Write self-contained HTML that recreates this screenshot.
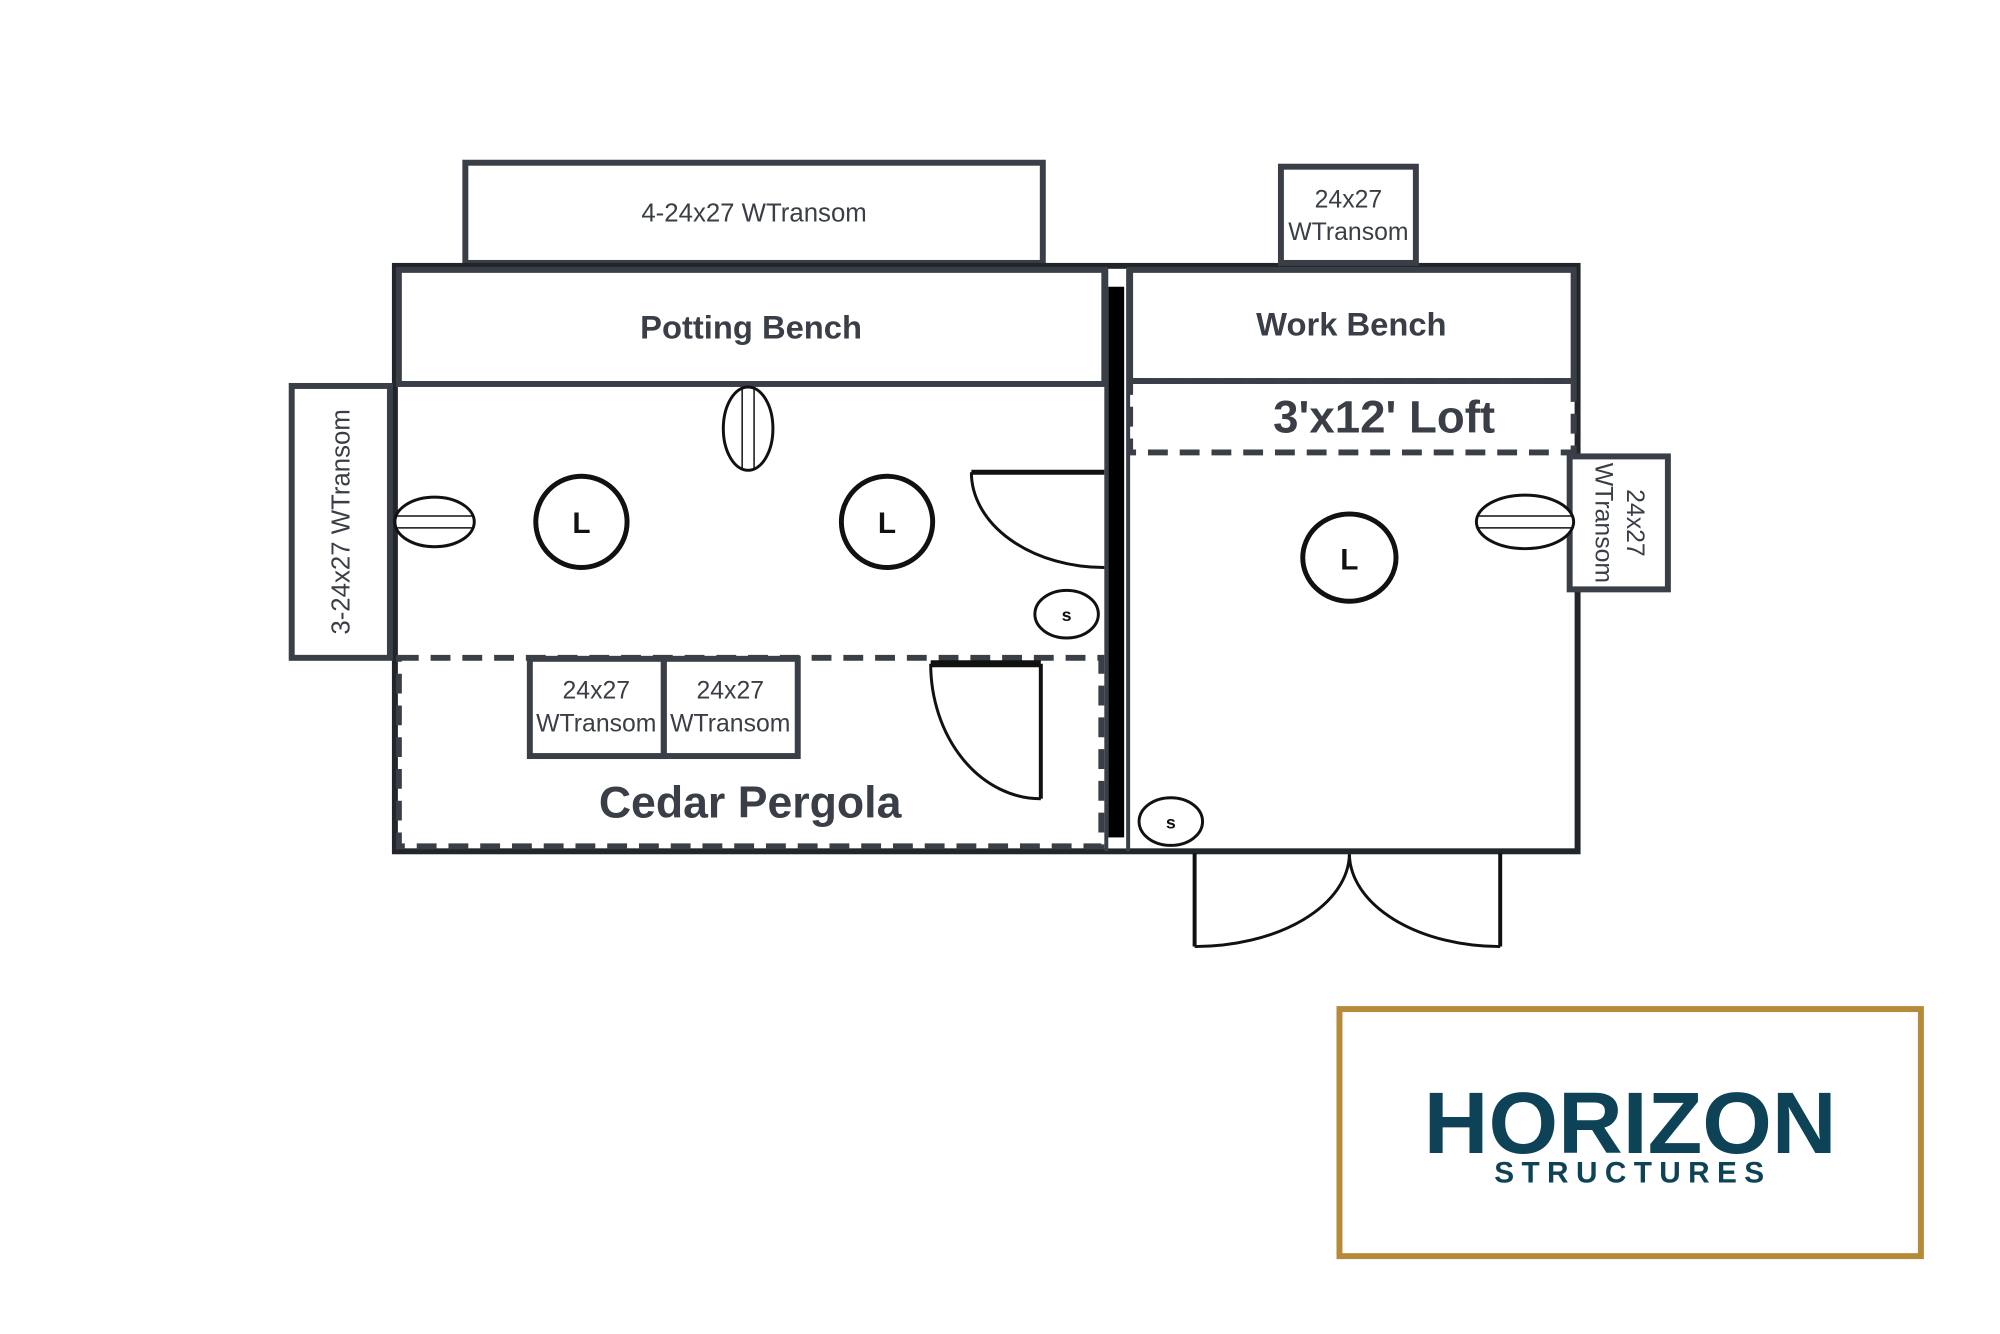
<!DOCTYPE html>
<html><head><meta charset="utf-8"><style>
html,body{margin:0;padding:0;background:#fff;}
svg{display:block;}
text{font-family:"Liberation Sans",sans-serif;fill:#3a3e46;}
</style></head><body>
<svg width="2000" height="1334" viewBox="0 0 2000 1334" xmlns="http://www.w3.org/2000/svg">
<g transform="scale(0.9922)">
<g fill="none" stroke="#3a3e46" stroke-width="6">
 <rect x="469" y="164" width="582" height="101"/>
 <rect x="398" y="268" width="1192" height="590" stroke="#22252a" stroke-width="6"/>
 <rect x="402" y="272" width="711" height="115"/>
 <rect x="294" y="389" width="99" height="274"/>
 <rect x="402" y="663" width="708" height="190" stroke-dasharray="20,12"/>
 <rect x="534" y="664" width="135" height="98"/>
 <rect x="669" y="664" width="135" height="98"/>
 <rect x="1139" y="272" width="447" height="112"/>
 <rect x="1139" y="384" width="447" height="72" stroke-dasharray="20,12"/>
 <rect x="1291" y="168" width="136" height="97"/>
 <rect x="1582" y="460" width="99" height="134" fill="#fff"/>
</g>
<rect x="1115" y="271" width="22" height="584" fill="#fff"/>
<rect x="1117" y="289" width="16" height="555" fill="#000"/>
<line x1="1137" y1="271" x2="1137" y2="858" stroke="#3a3e46" stroke-width="4"/>
<line x1="1115" y1="271" x2="1115" y2="858" stroke="#3a3e46" stroke-width="4"/>
<g fill="none" stroke="#111" stroke-width="3">
 <line x1="979" y1="476" x2="1113" y2="476" stroke-width="5"/>
 <path d="M979 476 A134 96 0 0 0 1113 572"/>
 <line x1="938" y1="669" x2="1049" y2="669" stroke-width="7"/>
 <line x1="1049" y1="669" x2="1049" y2="805" stroke-width="4"/>
 <path d="M938 669 A111 136 0 0 0 1049 805"/>
 <line x1="1204" y1="860" x2="1204" y2="954" stroke-width="4"/>
 <line x1="1512" y1="860" x2="1512" y2="954" stroke-width="4"/>
 <path d="M1360 861 A156 94 0 0 1 1204 954"/>
 <path d="M1360 861 A152 94 0 0 0 1512 954"/>
</g>
<g fill="#fff" stroke="#111" stroke-width="5">
 <circle cx="586" cy="526" r="46"/>
 <circle cx="894" cy="526" r="46"/>
 <ellipse cx="1360" cy="562" rx="47" ry="44"/>
</g>
<g font-weight="bold" font-size="30" text-anchor="middle">
 <text x="586" y="537" style="fill:#111">L</text>
 <text x="894" y="537" style="fill:#111">L</text>
 <text x="1360" y="574" style="fill:#111">L</text>
</g>
<g fill="#fff" stroke="#111" stroke-width="3">
 <ellipse cx="438" cy="526" rx="40" ry="25"/>
 <ellipse cx="754" cy="432" rx="25" ry="42"/>
 <ellipse cx="1537" cy="526" rx="49" ry="27"/>
 <ellipse cx="1075" cy="619" rx="32" ry="24"/>
 <ellipse cx="1180" cy="828" rx="32" ry="24"/>
</g>
<g stroke="#111" stroke-width="1.5">
 <line x1="400" y1="520" x2="477" y2="520"/><line x1="400" y1="532" x2="477" y2="532"/>
 <line x1="748" y1="392" x2="748" y2="472"/><line x1="760" y1="392" x2="760" y2="472"/>
 <line x1="1490" y1="520" x2="1584" y2="520"/><line x1="1490" y1="532" x2="1584" y2="532"/>
</g>
<g font-weight="bold" font-size="18" text-anchor="middle">
 <text x="1075" y="626" style="fill:#111">s</text>
 <text x="1180" y="835" style="fill:#111">s</text>
</g>
<g text-anchor="middle">
 <text x="760" y="223" font-size="26">4-24x27 WTransom</text>
 <text x="757" y="341" font-size="33" font-weight="bold">Potting Bench</text>
 <text x="1362" y="338" font-size="33" font-weight="bold">Work Bench</text>
 <text x="1395" y="436" font-size="46" font-weight="bold">3'x12' Loft</text>
 <text x="756" y="824" font-size="45" font-weight="bold">Cedar Pergola</text>
 <text x="1359" y="209" font-size="25">24x27</text>
 <text x="1359" y="242" font-size="25">WTransom</text>
 <text x="601" y="704" font-size="25">24x27</text>
 <text x="601" y="737" font-size="25">WTransom</text>
 <text x="736" y="704" font-size="25">24x27</text>
 <text x="736" y="737" font-size="25">WTransom</text>
 <text transform="translate(352,526) rotate(-90)" font-size="26">3-24x27 WTransom</text>
 <text transform="translate(1640,527) rotate(90)" font-size="25">24x27</text>
 <text transform="translate(1608,527) rotate(90)" font-size="25">WTransom</text>
</g>
<rect x="1350" y="1017" width="586" height="249" fill="none" stroke="#b58a38" stroke-width="6"/>
<text x="1435" y="1162" font-size="88" font-weight="bold" style="fill:#0e4256" textLength="416" lengthAdjust="spacingAndGlyphs">HORIZON</text>
<text x="1506" y="1192" font-size="30" font-weight="bold" style="fill:#0e4256" textLength="272" lengthAdjust="spacing">STRUCTURES</text>
</g>
</svg>
</body></html>
